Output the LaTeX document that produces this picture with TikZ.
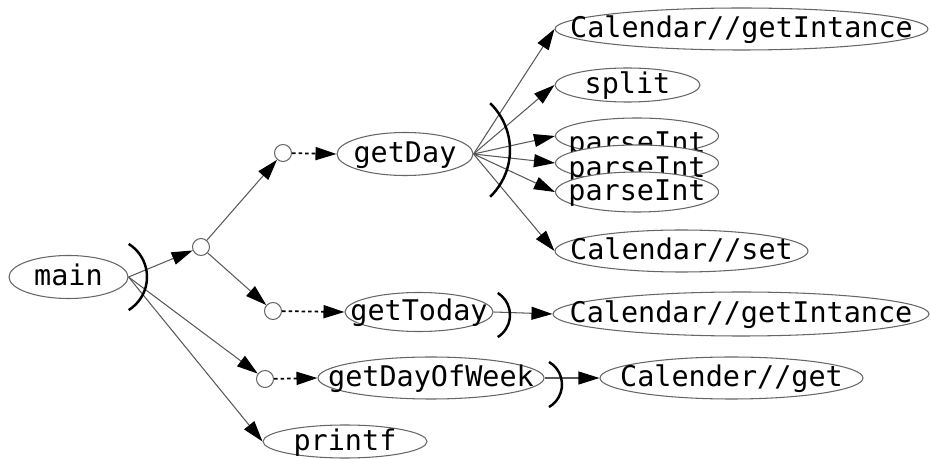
\documentclass[tikz,border=0pt]{standalone}
\usepackage{fontspec}
\newfontfamily\codefont{DejaVu Sans Mono}
\usetikzlibrary{arrows.meta, shapes.geometric}

\begin{document}
\begin{tikzpicture}[x=0.02cm, y=-0.02cm,
    >={Triangle[length=0.42cm, width=0.26cm, color=black]}]

  % 样式: 函数椭圆, 函数名, 分叉小圆, 调用边, 跳转边, 顺序弧
  \tikzset{
    fn/.style 2 args={ellipse, draw=black!60, fill=white, line width=0.6pt,
      inner sep=0pt, minimum width=#1*0.02cm, minimum height=#2*0.02cm},
    fnname/.style={font=\codefont\fontsize{16.2}{18}\selectfont,
      inner sep=0pt, text height=13pt, text depth=3.2pt},
    hub/.style={circle, draw=black!60, fill=white, line width=0.6pt,
      inner sep=0pt, minimum size=17*0.02cm},
    call/.style={->, draw=black!65, line width=0.6pt},
    jump/.style={->, draw=black, line width=1pt, dash pattern=on 2pt off 1.7pt},
    seq/.style={line width=1.4pt}
  }

  \useasboundingbox (0,0) rectangle (931,459);

  % 1. 主函数与分叉点
  \node[fn={119}{43}, label={[fnname]center:main}] (main) at (68.5,277) {};
  \node[hub] (fork) at (201,247) {};
  \node[hub] (hubDay) at (283,153) {};
  \node[hub] (hubToday) at (273,311) {};
  \node[hub] (hubWeek) at (265,379) {};

  % 2. 被调函数
  \node[fn={136}{43}, label={[fnname]center:getDay}] (getDay) at (405,154) {};
  \node[fn={148}{39}, label={[fnname]center:getToday}] (getToday) at (419,312) {};
  \node[fn={226}{42}, label={[fnname]center:getDayOfWeek}] (getWeek) at (431,378) {};
  \node[fn={164}{33}, label={[fnname]center:printf}] (printf) at (345,441.5) {};

  % 3. getDay 的调用 (三个 parseInt 互相压住, 文字下移)
  \node[fn={373}{42}, label={[fnname]center:Calendar//getIntance}] (instA) at (741.5,29) {};
  \node[fn={145}{34}, label={[fnname]center:split}] (split) at (627.5,85) {};
  \node[fn={163}{36}, label={[fnname, yshift=-0.16cm]center:parseInt}] (parseA) at (637,136) {};
  \node[fn={163}{36}, label={[fnname, yshift=-0.12cm]center:parseInt}] (parseB) at (637,163) {};
  \node[fn={163}{40}, label={[fnname]center:parseInt}] (parseC) at (637,192) {};
  \node[fn={253}{42}, label={[fnname]center:Calendar//set}] (calSet) at (681.5,251) {};

  % 4. getToday / getDayOfWeek 的调用
  \node[fn={376}{44}, label={[fnname]center:Calendar//getIntance}] (instB) at (741,314) {};
  \node[fn={263}{42}, label={[fnname]center:Calender//get}] (calGet) at (731.5,378) {};

  % 5. 边
  \draw[call] (main.east) -- (fork);
  \draw[call] (main.east) -- (hubWeek);
  \draw[call] (main.east) -- (printf.west);
  \draw[call] (fork) -- (hubDay);
  \draw[call] (fork) -- (hubToday);

  \draw[jump] (hubDay) -- (getDay.west);
  \draw[jump] (hubToday) -- (getToday.west);
  \draw[jump] (hubWeek) -- (getWeek.west);

  \foreach \callee in {instA, split, parseA, parseB, parseC, calSet}
    \draw[call] (getDay.east) -- (\callee.west);
  \draw[call] (getToday.east) -- (instB.west);
  \draw[call] (getWeek.east) -- (calGet.west);

  % 6. 顺序弧
  \draw[seq] (108,277) ++(-58:39) arc[start angle=-58, end angle=58, radius=39];
  \draw[seq] (445,150) ++(-46:65) arc[start angle=-46, end angle=46, radius=65];
  \draw[seq] (484,315) ++(-58:26) arc[start angle=-58, end angle=58, radius=26];
  \draw[seq] (536,384.5) ++(-60:26) arc[start angle=-60, end angle=60, radius=26];

\end{tikzpicture}
\end{document}
